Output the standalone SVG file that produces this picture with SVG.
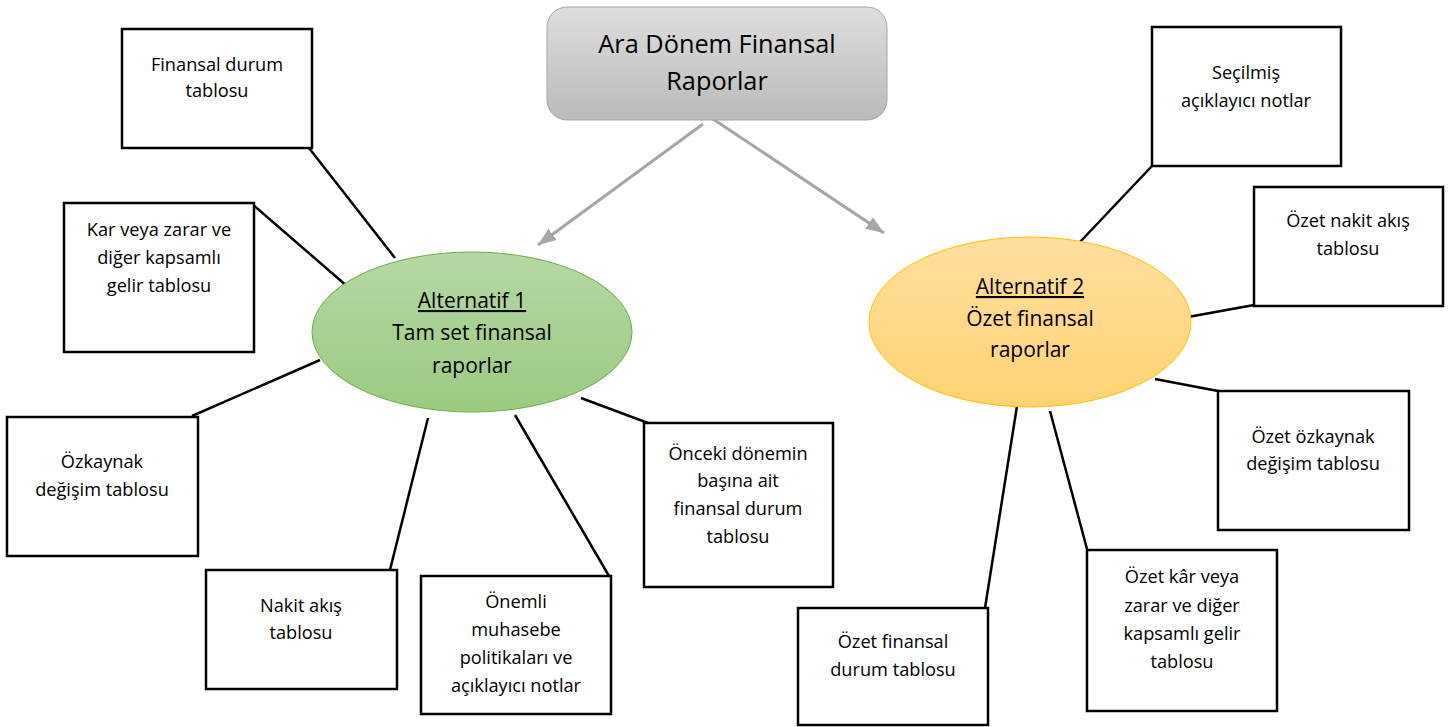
<svg xmlns="http://www.w3.org/2000/svg" width="1453" height="727" viewBox="0 0 1453 727">
  <defs>
    <linearGradient id="gGrey" x1="0" y1="0" x2="0" y2="1">
      <stop offset="0" stop-color="#dedede"/>
      <stop offset="1" stop-color="#bababa"/>
    </linearGradient>
    <linearGradient id="gGreen" x1="0" y1="0" x2="0" y2="1">
      <stop offset="0" stop-color="#b6d7a6"/>
      <stop offset="1" stop-color="#9bca80"/>
    </linearGradient>
    <linearGradient id="gGold" x1="0" y1="0" x2="0" y2="1">
      <stop offset="0" stop-color="#ffdf9f"/>
      <stop offset="1" stop-color="#ffd373"/>
    </linearGradient>
    <marker id="arrowGrey" markerUnits="userSpaceOnUse" markerWidth="20" markerHeight="16" refX="18" refY="8" orient="auto">
      <path d="M0,1 L18,8 L0,15 Z" fill="#a6a6a6"/>
    </marker>
  </defs>
  <style>
    text { font-family: "Open Sans", "Liberation Sans", sans-serif; fill: #000; text-anchor: middle; }
    .box rect { fill: #fff; stroke: #000; stroke-width: 2.5; }
    .box text { font-size: 18.2px; }
    .oval text { font-size: 21px; }
    .title text { font-size: 25.3px; }
    .u { text-decoration: underline; }
    .link { stroke: #000; stroke-width: 2.5; fill: none; }
    .arrow { stroke: #a6a6a6; stroke-width: 3; fill: none; marker-end: url(#arrowGrey); }
  </style>

  <rect width="1453" height="727" fill="#fff"/>

  <!-- connectors -->
  <g id="connectors">
    <line class="arrow" x1="703" y1="124" x2="538" y2="245"/>
    <line class="arrow" x1="710" y1="117" x2="884" y2="233"/>

    <line class="link" x1="309" y1="148" x2="395" y2="258"/>
    <line class="link" x1="251" y1="203" x2="348" y2="287"/>
    <line class="link" x1="192" y1="416" x2="320" y2="360"/>
    <line class="link" x1="390" y1="570" x2="428" y2="418"/>
    <line class="link" x1="609" y1="576" x2="515" y2="415"/>
    <line class="link" x1="581" y1="398" x2="648" y2="423"/>

    <line class="link" x1="1152" y1="166" x2="1080" y2="242"/>
    <line class="link" x1="1254" y1="305" x2="1188" y2="317"/>
    <line class="link" x1="1218" y1="391" x2="1155" y2="379"/>
    <line class="link" x1="1087" y1="549" x2="1050" y2="411"/>
    <line class="link" x1="985" y1="608" x2="1017" y2="406"/>
  </g>

  <!-- root -->
  <g id="root" class="title">
    <rect x="547" y="7" width="340" height="113" rx="20" ry="20" fill="url(#gGrey)" stroke="#a6a6a6" stroke-width="1"/>
    <text x="717" y="53">Ara Dönem Finansal</text>
    <text x="717" y="90">Raporlar</text>
  </g>

  <!-- alternative 1 -->
  <g id="alt1" class="oval">
    <ellipse cx="472" cy="332" rx="160" ry="80" fill="url(#gGreen)" stroke="#70ad47" stroke-width="1"/>
    <text x="472" y="308" class="u">Alternatif 1</text>
    <text x="472" y="340">Tam set finansal</text>
    <text x="472" y="373">raporlar</text>
  </g>

  <!-- alternative 2 -->
  <g id="alt2" class="oval">
    <ellipse cx="1030" cy="322" rx="161" ry="85" fill="url(#gGold)" stroke="#ffc000" stroke-width="1"/>
    <text x="1030" y="294" class="u">Alternatif 2</text>
    <text x="1030" y="326">Özet finansal</text>
    <text x="1030" y="357">raporlar</text>
  </g>

  <!-- full set items -->
  <g id="financial-position" class="box">
    <rect x="122" y="29" width="190" height="119"/>
    <text x="217" y="71">Finansal durum</text>
    <text x="217" y="97">tablosu</text>
  </g>
  <g id="profit-loss" class="box">
    <rect x="64" y="203" width="190" height="149"/>
    <text x="159" y="236">Kar veya zarar ve</text>
    <text x="159" y="264">diğer kapsamlı</text>
    <text x="159" y="292">gelir tablosu</text>
  </g>
  <g id="equity-changes" class="box">
    <rect x="7" y="417" width="191" height="139"/>
    <text x="102" y="468">Özkaynak</text>
    <text x="102" y="496">değişim tablosu</text>
  </g>
  <g id="cash-flow" class="box">
    <rect x="206" y="570" width="191" height="119"/>
    <text x="301" y="612">Nakit akış</text>
    <text x="301" y="639">tablosu</text>
  </g>
  <g id="policies-notes" class="box">
    <rect x="421" y="576" width="190" height="138"/>
    <text x="516" y="608">Önemli</text>
    <text x="516" y="636">muhasebe</text>
    <text x="516" y="664">politikaları ve</text>
    <text x="516" y="692">açıklayıcı notlar</text>
  </g>
  <g id="prior-period" class="box">
    <rect x="644" y="423" width="189" height="164"/>
    <text x="738" y="460">Önceki dönemin</text>
    <text x="738" y="487">başına ait</text>
    <text x="738" y="515">finansal durum</text>
    <text x="738" y="543">tablosu</text>
  </g>

  <!-- condensed set items -->
  <g id="selected-notes" class="box">
    <rect x="1152" y="27" width="189" height="139"/>
    <text x="1246" y="79">Seçilmiş</text>
    <text x="1246" y="107">açıklayıcı notlar</text>
  </g>
  <g id="condensed-cash-flow" class="box">
    <rect x="1254" y="187" width="189" height="119"/>
    <text x="1348" y="227">Özet nakit akış</text>
    <text x="1348" y="255">tablosu</text>
  </g>
  <g id="condensed-equity" class="box">
    <rect x="1218" y="391" width="191" height="139"/>
    <text x="1313" y="443">Özet özkaynak</text>
    <text x="1313" y="470">değişim tablosu</text>
  </g>
  <g id="condensed-profit-loss" class="box">
    <rect x="1087" y="550" width="190" height="161"/>
    <text x="1182" y="583">Özet kâr veya</text>
    <text x="1182" y="612">zarar ve diğer</text>
    <text x="1182" y="640">kapsamlı gelir</text>
    <text x="1182" y="668">tablosu</text>
  </g>
  <g id="condensed-position" class="box">
    <rect x="798" y="608" width="190" height="117"/>
    <text x="893" y="648">Özet finansal</text>
    <text x="893" y="676">durum tablosu</text>
  </g>
</svg>
